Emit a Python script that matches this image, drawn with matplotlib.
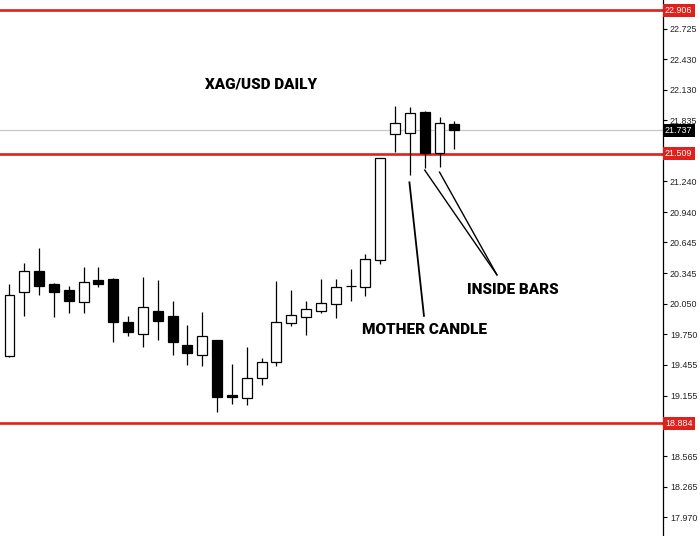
import matplotlib
matplotlib.use("Agg")
import matplotlib.pyplot as plt
import matplotlib.transforms as mtransforms
import numpy as np

# daily candles, oldest first
opens = [19.54, 20.16, 20.37, 20.24, 20.18, 20.07, 20.28, 20.29, 19.87, 19.75,
         19.98, 19.93, 19.65, 19.55, 19.70, 19.16, 19.13, 19.33, 19.48, 19.86,
         19.92, 19.98, 20.05, 20.22, 20.21, 20.47, 21.70, 21.71, 21.92, 21.52, 21.80]
highs = [20.24, 20.45, 20.59, 20.25, 20.22, 20.41, 20.41, 20.30, 19.93, 20.31,
         20.28, 20.08, 19.84, 19.97, 19.70, 19.46, 19.63, 19.52, 20.27, 20.18,
         20.08, 20.29, 20.29, 20.39, 20.53, 21.47, 21.97, 21.96, 21.93, 21.87, 21.83]
lows = [19.53, 19.93, 20.13, 19.92, 19.96, 19.96, 20.21, 19.68, 19.73, 19.63,
        19.70, 19.55, 19.45, 19.44, 18.99, 19.07, 19.06, 19.26, 19.44, 19.83,
        19.74, 19.96, 19.91, 20.08, 20.12, 20.44, 21.53, 21.30, 21.37, 21.38, 21.56]
closes = [20.13, 20.37, 20.22, 20.16, 20.08, 20.26, 20.24, 19.87, 19.77, 20.02,
          19.88, 19.68, 19.57, 19.73, 19.14, 19.14, 19.33, 19.48, 19.87, 19.94,
          20.00, 20.06, 20.21, 20.225, 20.48, 21.47, 21.81, 21.91, 21.52, 21.81, 21.737]

levels = [22.906, 21.509, 18.884]
last_price = 21.737
tick_values = [22.725, 22.430, 22.130, 21.835, 21.240, 20.940, 20.645,
               20.345, 20.050, 19.750, 19.455, 19.155, 18.565, 18.265, 17.970]

mother_idx = 27
inside_idx = [28, 29]

fig = plt.figure(figsize=(7, 5.36), dpi=100)
ax = fig.add_axes([0, 0, 663 / 700, 1])

x = np.arange(len(opens))
o = np.array(opens)
c = np.array(closes)
up = c >= o

ax.vlines(x, lows, highs, color="black", lw=0.9, zorder=3)
body_lo = np.minimum(o, c)
body_h = np.maximum(np.abs(c - o), 0.004)
ax.bar(x, body_h, bottom=body_lo, width=0.67,
       color=np.where(up, "white", "black"), edgecolor="black", lw=0.9, zorder=4)

# support / resistance levels and current price
for lv in levels:
    ax.axhline(lv, color="#e0201b", lw=1.9, zorder=2)
ax.axhline(last_price, color="#c8c8c8", lw=0.9, zorder=1)

ax.set_xlim(-0.64, 44.07)
ax.set_ylim(17.787, 23.006)

for s in ["left", "top", "bottom"]:
    ax.spines[s].set_visible(False)
ax.spines["right"].set_linewidth(0.9)
ax.set_xticks([])
ax.yaxis.tick_right()
ax.set_yticks(tick_values)
ax.set_yticklabels([f"{v:.3f}" for v in tick_values], fontsize=6.4,
                   family="Liberation Sans", color="#222222")
ax.tick_params(axis="y", length=3, width=0.8, pad=2)

trans = mtransforms.blended_transform_factory(ax.transAxes, ax.transData)
for lv in levels:
    ax.text(1.003, lv, f"{lv:.3f}", transform=trans, fontsize=6.4, family="Liberation Sans",
            color="white", va="center", ha="left", zorder=10, clip_on=False,
            bbox=dict(boxstyle="square,pad=0.25", fc="#e0201b", ec="none"))
ax.text(1.003, last_price, f"{last_price:.3f}", transform=trans, fontsize=6.4,
        family="Liberation Sans", color="white", va="center", ha="left", zorder=10,
        clip_on=False, bbox=dict(boxstyle="square,pad=0.25", fc="black", ec="none"))

# captions
note = dict(fontsize=11, fontweight="black", family="Roboto",
            color="black", ha="center", va="center", zorder=12)
ax.text(16.96, 22.179, "XAG/USD DAILY", **note)
ax.text(28.0, 19.79, "MOTHER CANDLE", **note)
ax.text(33.95, 20.18, "INSIDE BARS", **note)

ax.plot([mother_idx - 0.03, mother_idx + 0.95], [21.23, 19.93], color="black", lw=1.3)
for i, top in zip(inside_idx, [21.35, 21.33]):
    ax.plot([i, 32.87], [top, 20.33], color="black", lw=1.0)

fig.savefig("out.png", dpi=100)
